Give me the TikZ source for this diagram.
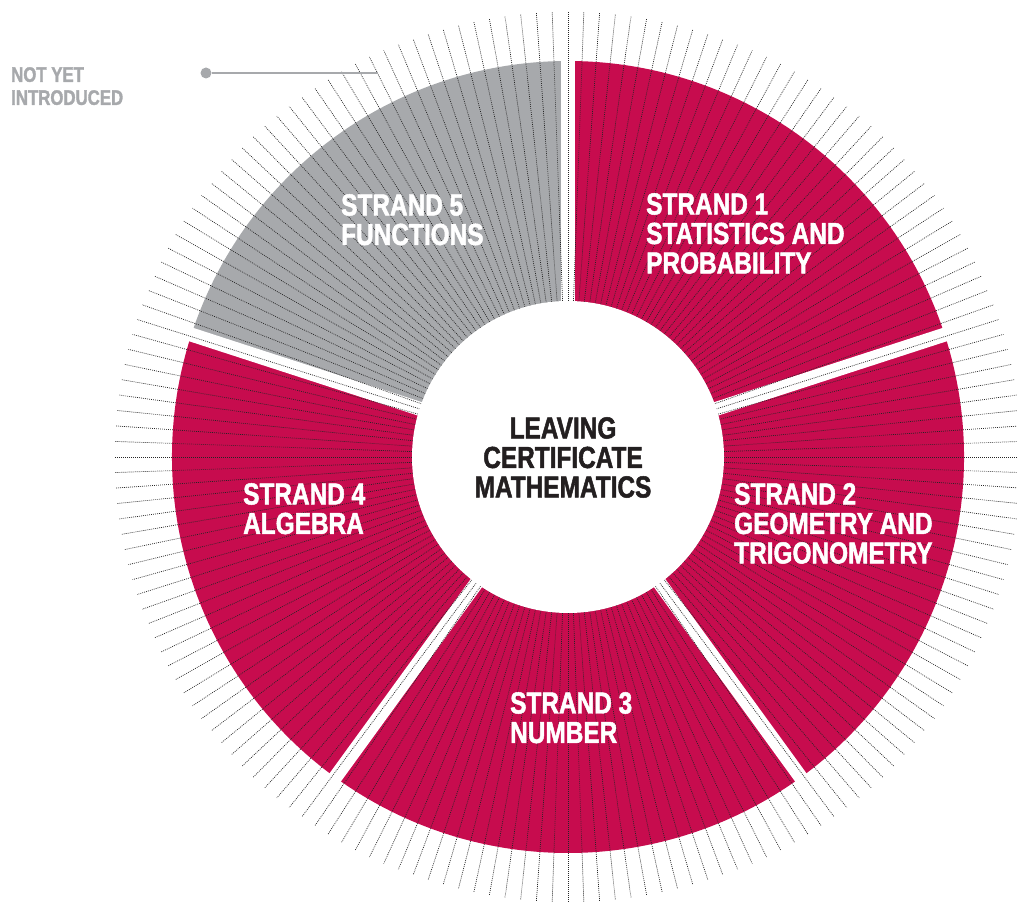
\documentclass[tikz,border=0pt]{standalone}
\usepackage{fontspec}
\usetikzlibrary{calc}
\setmainfont{Liberation Sans}[FakeStretch=0.8, BoldFeatures={FakeBold=1.6}]
\definecolor{strandred}{RGB}{199,12,78}
\definecolor{strandgray}{RGB}{167,169,172}
\definecolor{darktext}{RGB}{35,31,32}
\tikzset{
  strandlabel/.style={anchor=north west, align=left, inner sep=0pt, text=white,
    font=\bfseries\fontsize{30.5}{29.5}\selectfont},
  titlelabel/.style={anchor=north, align=center, inner sep=0pt, text=darktext,
    font=\bfseries\fontsize{30.5}{29.5}\selectfont},
  notelabel/.style={anchor=north west, align=left, inner sep=0pt, text=strandgray,
    font=\bfseries\fontsize{21}{23}\selectfont},
  radial/.style={black!85, line width=0.7pt, dash pattern=on 0.9pt off 1.1pt},
  gapstrip/.style={white, line width=14pt},
}
\begin{document}
\begin{tikzpicture}[x=1pt,y=1pt]
\useasboundingbox (0,0) rectangle (1017,908);
\coordinate (C) at (568,451);
% coloured sectors
\foreach \a/\b/\c in {90/162/strandgray, 18/90/strandred, -54/18/strandred, -126/-54/strandred, 162/234/strandred}
  \fill[\c] (C) -- ++(\a:396) arc[start angle=\a, end angle=\b, radius=396] -- cycle;
% gaps between strands
\foreach \a in {90,18,-54,-126,162}
  \draw[gapstrip] (C) -- ++(\a:420);
% radial dotted lines
\foreach \k in {0,...,179}{
  \pgfmathsetmacro{\t}{90+2*\k}
  \draw[radial] ($(C)+(\t:140)$) -- ($(C)+({453*cos(\t)},{445*sin(\t)})$);
}
% hub
\node[circle, fill=white, minimum size=312pt, inner sep=0pt] (hub) at (C) {};
\node[titlelabel] (title) at (563,491) {LEAVING\\CERTIFICATE\\MATHEMATICS};
% strand labels
\node[strandlabel] (s1) at (646,715) {STRAND 1\\STATISTICS AND\\PROBABILITY};
\node[strandlabel] (s5) at (341,714) {STRAND 5\\FUNCTIONS};
\node[strandlabel] (s2) at (734,425) {STRAND 2\\GEOMETRY AND\\TRIGONOMETRY};
\node[strandlabel] (s4) at (243,425) {STRAND 4\\ALGEBRA};
\node[strandlabel] (s3) at (510,216) {STRAND 3\\NUMBER};
% legend
\node[notelabel] (nyi) at (11,841) {NOT YET\\INTRODUCED};
\node[circle, fill=strandgray, minimum size=11pt, inner sep=0pt] (dot) at (206,835) {};
\coordinate (lineend) at (378,835);
\draw[strandgray, line width=2.5pt] (dot) -- (lineend);
\end{tikzpicture}
\end{document}
